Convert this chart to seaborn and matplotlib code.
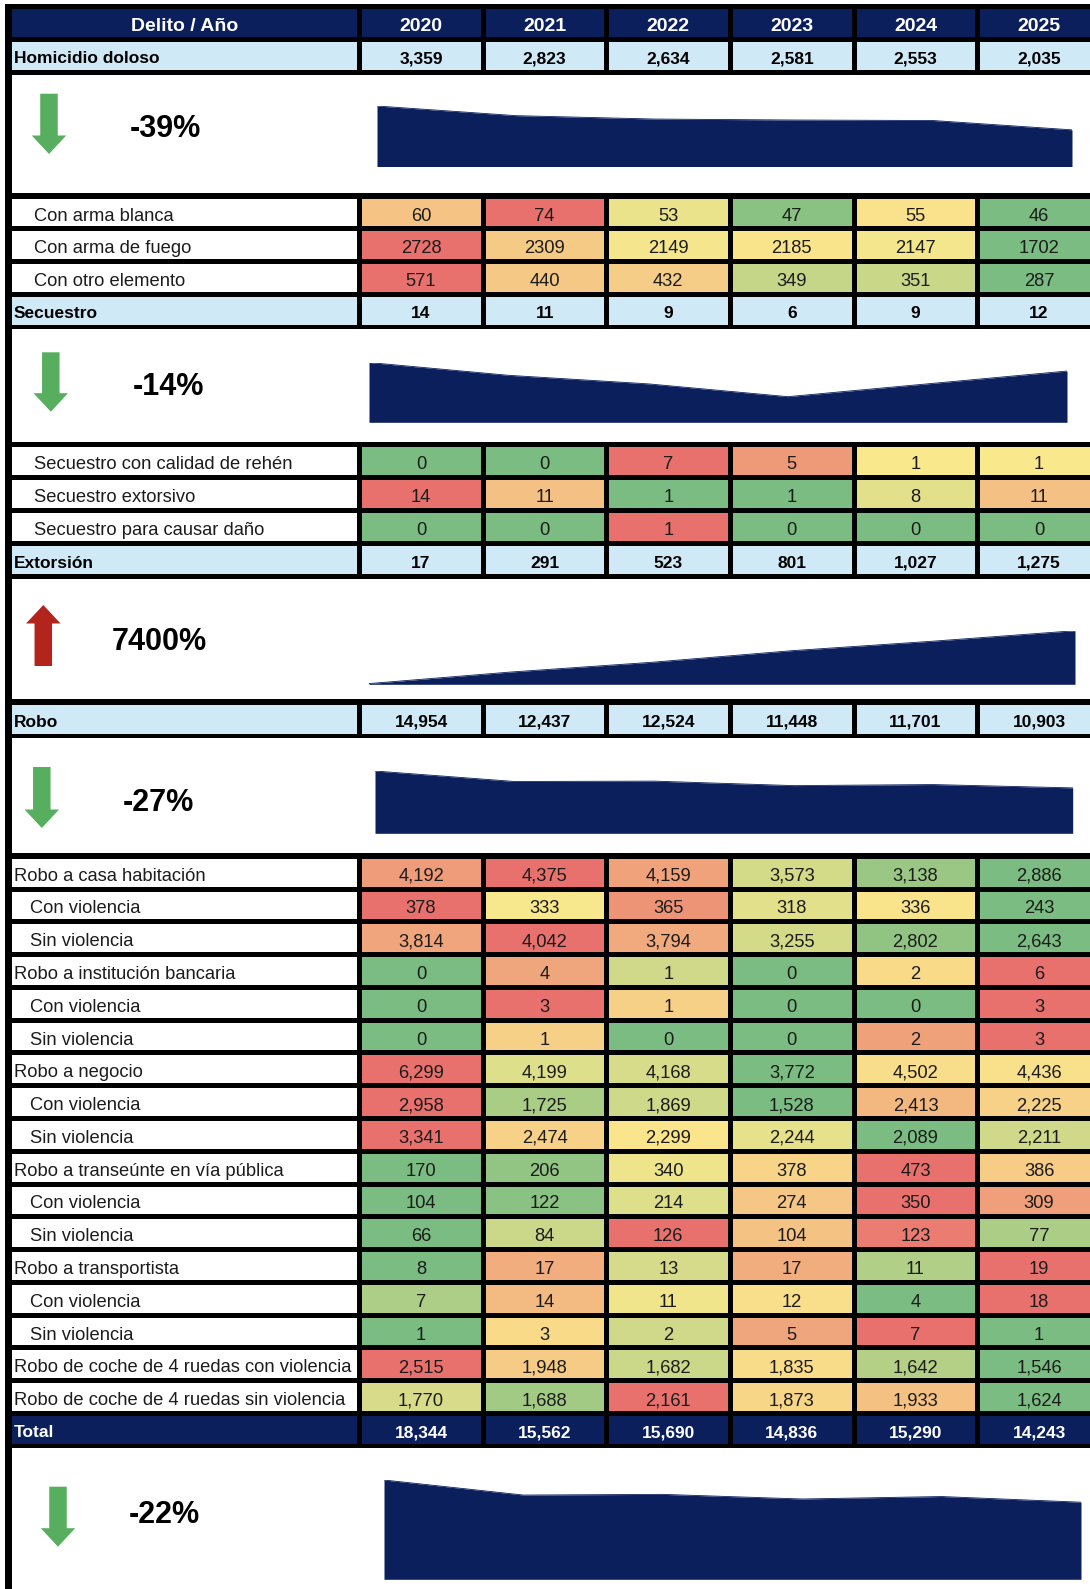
import numpy as np
import seaborn as sns
import matplotlib
matplotlib.use('Agg')
from matplotlib import pyplot as plt, colors
from matplotlib.patches import FancyArrow, Rectangle

years = [2020, 2021, 2022, 2023, 2024, 2025]

homicidio = [3359, 2823, 2634, 2581, 2553, 2035]
hom_arma_blanca = [60, 74, 53, 47, 55, 46]
hom_arma_fuego = [2728, 2309, 2149, 2185, 2147, 1702]
hom_otro = [571, 440, 432, 349, 351, 287]

secuestro = [14, 11, 9, 6, 9, 12]
sec_rehen = [0, 0, 7, 5, 1, 1]
sec_extorsivo = [14, 11, 1, 1, 8, 11]
sec_dano = [0, 0, 1, 0, 0, 0]

extorsion = [17, 291, 523, 801, 1027, 1275]

robo = [14954, 12437, 12524, 11448, 11701, 10903]
robo_casa = [4192, 4375, 4159, 3573, 3138, 2886]
robo_casa_con = [378, 333, 365, 318, 336, 243]
robo_casa_sin = [3814, 4042, 3794, 3255, 2802, 2643]
robo_banco = [0, 4, 1, 0, 2, 6]
robo_banco_con = [0, 3, 1, 0, 0, 3]
robo_banco_sin = [0, 1, 0, 0, 2, 3]
robo_negocio = [6299, 4199, 4168, 3772, 4502, 4436]
robo_negocio_con = [2958, 1725, 1869, 1528, 2413, 2225]
robo_negocio_sin = [3341, 2474, 2299, 2244, 2089, 2211]
robo_transeunte = [170, 206, 340, 378, 473, 386]
robo_transeunte_con = [104, 122, 214, 274, 350, 309]
robo_transeunte_sin = [66, 84, 126, 104, 123, 77]
robo_transportista = [8, 17, 13, 17, 11, 19]
robo_transportista_con = [7, 14, 11, 12, 4, 18]
robo_transportista_sin = [1, 3, 2, 5, 7, 1]
robo_coche_con = [2515, 1948, 1682, 1835, 1642, 1546]
robo_coche_sin = [1770, 1688, 2161, 1873, 1933, 1624]

total = [18344, 15562, 15690, 14836, 15290, 14243]

plt.rcParams['font.family'] = ['Liberation Sans', 'DejaVu Sans']

W, H = 1090, 1589
NAVY = '#0b1f5c'
LIGHT = '#d0e9f6'
INK = '#1c1c1c'
GREEN = '#57ae5f'
RED = '#b2241c'

# excel-like 3 colour scale (min green, median yellow, max red), plus fixed fills
scale = colors.LinearSegmentedColormap.from_list('semaforo', ['#7abc81', '#fae88d', '#e8716e'])
palette = [scale(i / 255) for i in range(256)] + [colors.to_rgba(c) for c in ('white', LIGHT, NAVY)]
cmap = colors.ListedColormap(palette)
NC = len(palette)
CODE = {'white': 256.5 / NC, 'cat': 257.5 / NC, 'navy': 258.5 / NC}


def row_codes(vals):
    v = np.asarray(vals, dtype=float)
    lo, mid, hi = v.min(), np.percentile(v, 50), v.max()
    out = []
    for x in v:
        if x <= mid:
            t = 0.5 * (x - lo) / (mid - lo) if mid > lo else 0.0
        else:
            t = 0.5 + 0.5 * (x - mid) / (hi - mid)
        out.append((t * 255 + 0.5) / NC)
    return out


def px_rect(x0, y0, x1, y1):
    return [x0 / W, 1 - y1 / H, (x1 - x0) / W, (y1 - y0) / H]


GAP = 5
LW = GAP * 72 / 100
X_LEFT, X_SPLIT, COL = 9.0, 359.25, 123.6
DY = 0.06  # nudge text down a little inside each cell

fig = plt.figure(figsize=(W / 100, H / 100), dpi=100)
fig.add_artist(Rectangle((5 / W, 0), 1, 1 - 4 / H, transform=fig.transFigure,
                         facecolor='black', edgecolor='none', zorder=-10))


def style_for(kind):
    if kind == 'head':
        return dict(color='white', fontweight='bold', fontsize=14)
    if kind == 'total':
        return dict(color='white', fontweight='bold', fontsize=12.5)
    if kind == 'cat':
        return dict(color='black', fontweight='bold', fontsize=12.5)
    return dict(color=INK, fontweight='normal', fontsize=13.2)


def draw_block(rows, top, bottom):
    y0, y1 = top - GAP / 2, bottom + GAP / 2
    lab, val = [], []
    for label, kind, indent, values, fmt in rows:
        if kind in ('head', 'total'):
            lab.append([CODE['navy']])
            val.append([CODE['navy']] * len(values))
        elif kind == 'cat':
            lab.append([CODE['cat']])
            val.append([CODE['cat']] * len(values))
        else:
            lab.append([CODE['white']])
            val.append(row_codes(values))

    lax = fig.add_axes(px_rect(X_LEFT, y0, X_SPLIT, y1))
    sns.heatmap(np.array(lab), ax=lax, cmap=cmap, vmin=0, vmax=1, cbar=False,
                linewidths=LW, linecolor='black', xticklabels=False, yticklabels=False)
    lax.axis('off')
    vax = fig.add_axes(px_rect(X_SPLIT, y0, X_SPLIT + COL * len(years), y1))
    sns.heatmap(np.array(val), ax=vax, cmap=cmap, vmin=0, vmax=1, cbar=False,
                linewidths=LW, linecolor='black', xticklabels=False, yticklabels=False)
    vax.axis('off')

    for i, (label, kind, indent, values, fmt) in enumerate(rows):
        st = style_for(kind)
        if indent is None:
            lax.text(0.5, i + 0.5 + DY, label, ha='center', va='center_baseline', **st)
        else:
            lax.text((indent - X_LEFT) / (X_SPLIT - X_LEFT), i + 0.5 + DY, label,
                     ha='left', va='center_baseline', **st)
        for j, v in enumerate(values):
            vax.text(j + 0.5, i + 0.5 + DY, fmt.format(v), ha='center',
                     va='center_baseline', **st)


def draw_panel(series, top, bottom, area, arrow, text_xy):
    pax = fig.add_axes(px_rect(11.5, top, W, bottom), facecolor='white')
    pax.set_xlim(11.5, W)
    pax.set_ylim(bottom, top)
    pax.set_xticks([])
    pax.set_yticks([])
    for s in pax.spines.values():
        s.set_visible(False)

    change = (series[-1] - series[0]) / series[0] * 100
    ax_x, tail, tip = arrow
    if change > 0:
        tail, tip = max(tail, tip), min(tail, tip)
    else:
        tail, tip = min(tail, tip), max(tail, tip)
    pax.add_patch(FancyArrow(ax_x, tail, 0, tip - tail, width=17.5, head_width=34.5,
                             head_length=18.5, length_includes_head=True,
                             color=RED if change > 0 else GREEN, lw=0))
    pax.text(text_xy[0], text_xy[1], f'{change:.0f}%', fontsize=22, fontweight='bold',
             ha='left', va='baseline', color='black')

    x0, x1, ytop, ybase = area
    aax = fig.add_axes(px_rect(x0, ytop, x1, ybase))
    aax.patch.set_alpha(0)
    aax.fill_between(years, series, color=NAVY, lw=0)
    sns.lineplot(x=years, y=series, ax=aax, color=NAVY, lw=0.6)
    aax.set_xlim(years[0], years[-1])
    aax.set_ylim(0, max(series))
    aax.axis('off')


C = '{:,}'
P = '{:d}'

draw_block([('Delito / Año', 'head', None, years, P),
            ('Homicidio doloso', 'cat', 13.5, homicidio, C)], 8.3, 69.3)
draw_panel(homicidio, 75, 193.3, (377, 1072, 106, 166.5), (49, 93.7, 154), (130, 136.7))

draw_block([('Con arma blanca', 'sub', 33.5, hom_arma_blanca, P),
            ('Con arma de fuego', 'sub', 33.5, hom_arma_fuego, P),
            ('Con otro elemento', 'sub', 33.5, hom_otro, P),
            ('Secuestro', 'cat', 13.5, secuestro, C)], 198.3, 324)
draw_panel(secuestro, 329.3, 441.7, (369, 1067, 362.5, 422.3), (50.8, 352.3, 411.7), (133, 395))

draw_block([('Secuestro con calidad de rehén', 'sub', 33.5, sec_rehen, C),
            ('Secuestro extorsivo', 'sub', 33.5, sec_extorsivo, C),
            ('Secuestro para causar daño', 'sub', 33.5, sec_dano, C),
            ('Extorsión', 'cat', 13.5, extorsion, C)], 446.7, 574)
draw_panel(extorsion, 579, 699.3, (369, 1075, 630.7, 684.3), (43.3, 666, 605), (112, 650))

draw_block([('Robo', 'cat', 13.5, robo, C)], 704.3, 733)
draw_panel(robo, 738, 853.3, (375, 1072.7, 771, 833.3), (41.8, 767, 828), (122.6, 811))

draw_block([('Robo a casa habitación', 'sub', 13.5, robo_casa, C),
            ('Con violencia', 'sub', 29.5, robo_casa_con, C),
            ('Sin violencia', 'sub', 29.5, robo_casa_sin, C),
            ('Robo a institución bancaria', 'sub', 13.5, robo_banco, C),
            ('Con violencia', 'sub', 29.5, robo_banco_con, C),
            ('Sin violencia', 'sub', 29.5, robo_banco_sin, C),
            ('Robo a negocio', 'sub', 13.5, robo_negocio, C),
            ('Con violencia', 'sub', 29.5, robo_negocio_con, C),
            ('Sin violencia', 'sub', 29.5, robo_negocio_sin, C),
            ('Robo a transeúnte en vía pública', 'sub', 13.5, robo_transeunte, C),
            ('Con violencia', 'sub', 29.5, robo_transeunte_con, C),
            ('Sin violencia', 'sub', 29.5, robo_transeunte_sin, C),
            ('Robo a transportista', 'sub', 13.5, robo_transportista, C),
            ('Con violencia', 'sub', 29.5, robo_transportista_con, C),
            ('Sin violencia', 'sub', 29.5, robo_transportista_sin, C),
            ('Robo de coche de 4 ruedas con violencia', 'sub', 13.5, robo_coche_con, C),
            ('Robo de coche de 4 ruedas sin violencia', 'sub', 13.5, robo_coche_sin, C),
            ('Total', 'total', 13.5, total, C)], 858.3, 1443.3)
draw_panel(total, 1448.3, H + 10, (384, 1081, 1480, 1579.3), (58, 1486.7, 1546.7), (128.6, 1523.3))

fig.savefig('out.png', dpi=100, facecolor='white')
